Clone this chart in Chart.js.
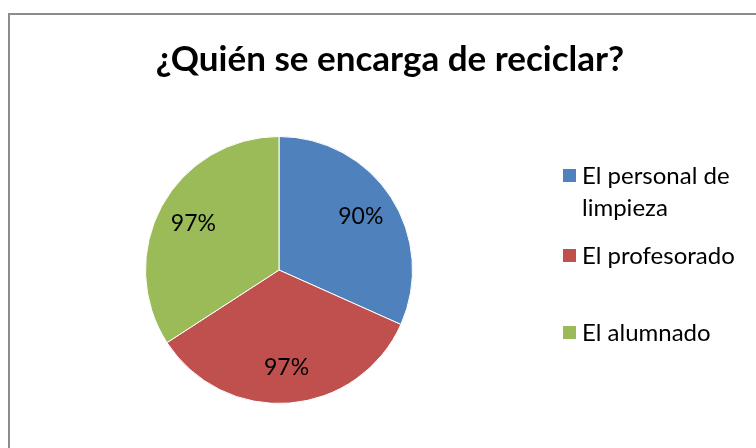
<!DOCTYPE html>
<html>
<head>
<meta charset="utf-8">
<script src="https://cdn.jsdelivr.net/npm/chart.js@4.4.1/dist/chart.umd.min.js"></script>
<style>
  html, body { margin: 0; padding: 0; background: #fff; }
  #wrap { width: 756px; height: 448px; }
</style>
</head>
<body>
<div id="wrap"><canvas id="grafico" width="756" height="448"></canvas></div>
<script>
const titulo = '¿Quién se encarga de reciclar?';
const categorias = [['El personal de', 'limpieza'], ['El profesorado'], ['El alumnado']];
const valores = [90, 97, 97];
const etiquetas = ['90%', '97%', '97%'];
const colores = ['#4F81BD', '#C0504D', '#9BBB59'];

const fuente = 'Lato, "Open Sans", sans-serif';

// marco, titulo, leyenda y etiquetas dibujados a mano
const extras = {
  id: 'extras',
  beforeDraw(chart) {
    const ctx = chart.ctx;
    ctx.save();
    ctx.strokeStyle = '#8c8c8c';
    ctx.lineWidth = 2;
    ctx.strokeRect(9, 14, 800, 500);
    ctx.restore();
  },
  afterDraw(chart) {
    const ctx = chart.ctx;
    ctx.save();
    ctx.fillStyle = '#000';
    ctx.textAlign = 'center';
    ctx.textBaseline = 'middle';
    ctx.font = 'bold 35px ' + fuente;
    ctx.fillText(titulo, 390, 60);

    // etiquetas de porcentaje
    ctx.font = '23px ' + fuente;
    const meta = chart.getDatasetMeta(0);
    meta.data.forEach((arc, i) => {
      const p = arc.getProps(['x', 'y', 'startAngle', 'endAngle', 'outerRadius'], true);
      const a = (p.startAngle + p.endAngle) / 2;
      const r = p.outerRadius * 0.73;
      ctx.fillText(etiquetas[i], p.x + Math.cos(a) * r, p.y + Math.sin(a) * r);
    });

    // leyenda
    ctx.font = '24px ' + fuente;
    const filas = [176, 256, 333];
    ctx.textAlign = 'left';
    categorias.forEach((lineas, i) => {
      ctx.fillStyle = colores[i];
      ctx.fillRect(563, filas[i] - 7, 13, 13);
      ctx.fillStyle = '#000';
      lineas.forEach((t, j) => ctx.fillText(t, 582, filas[i] + j * 32));
    });
    ctx.restore();
  }
};

new Chart(document.getElementById('grafico'), {
  type: 'pie',
  data: {
    labels: categorias.map(c => c.join(' ')),
    datasets: [{
      data: valores,
      backgroundColor: colores,
      borderColor: '#ffffff',
      borderWidth: 1
    }]
  },
  options: {
    responsive: false,
    animation: false,
    layout: { padding: { left: 145, right: 343, top: 136, bottom: 44 } },
    plugins: {
      legend: { display: false },
      title: { display: false },
      tooltip: { enabled: false }
    }
  },
  plugins: [extras]
});
</script>
</body>
</html>
